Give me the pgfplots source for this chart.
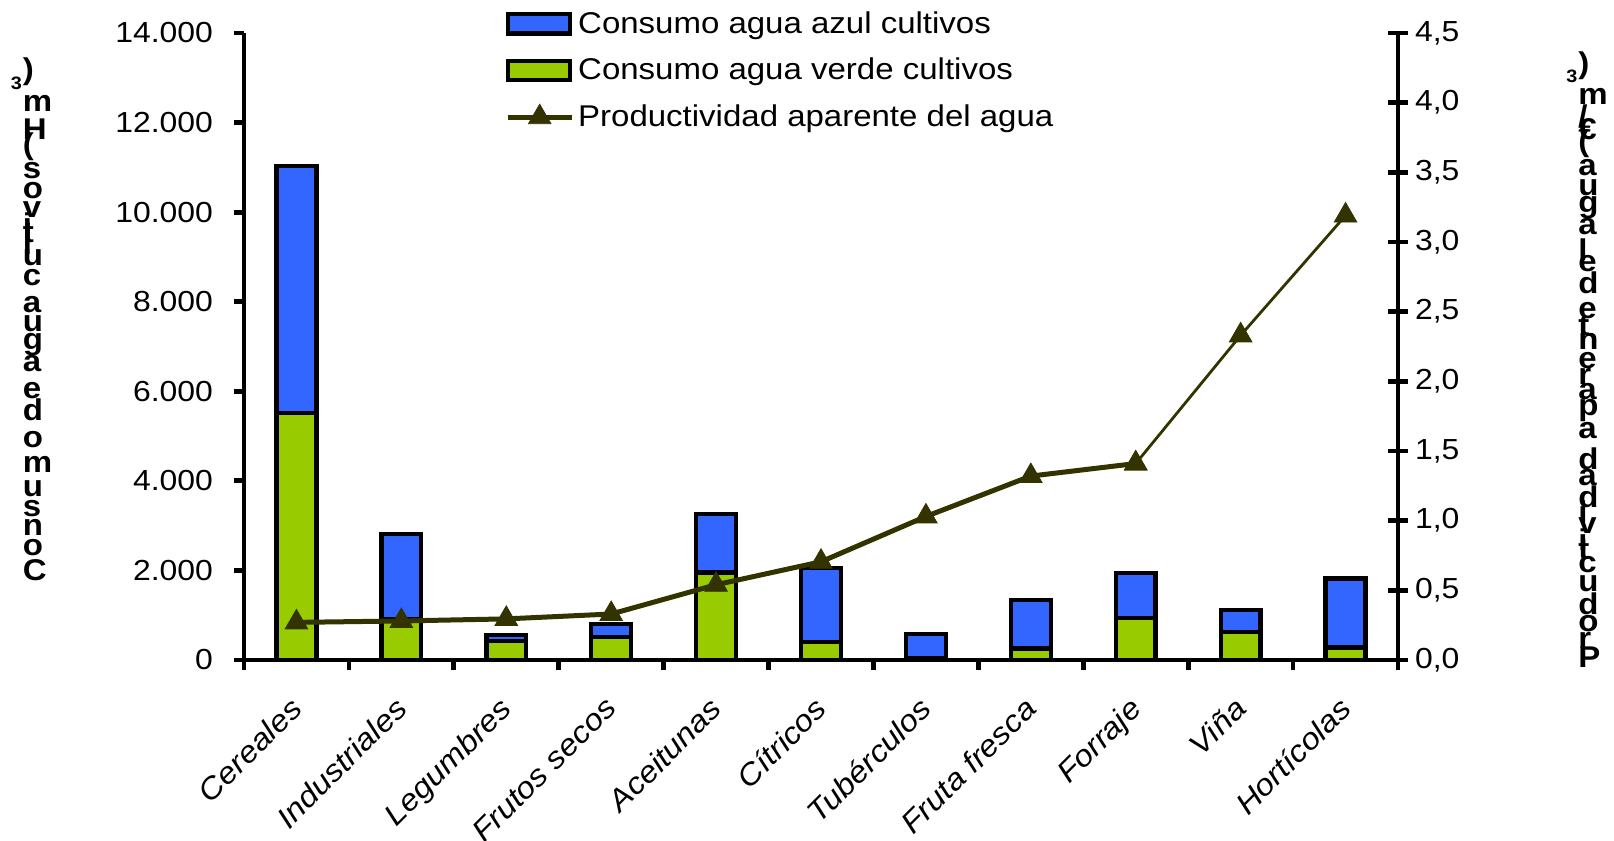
\documentclass[border=0pt]{standalone}
\usepackage{fontspec}
\setmainfont{Liberation Sans}[FakeStretch=1.1]
\usepackage{graphicx}
\usepackage{pgfplots}
\pgfplotsset{compat=1.18}

\definecolor{azul}{HTML}{3366FF}
\definecolor{verde}{HTML}{99CC00}
\definecolor{oliva}{HTML}{333300}

% upright letters stacked along a rotated baseline
\newlength\chw
\newcommand\stk{1}
\newcommand\uc[1]{\settowidth\chw{#1}\makebox[\stk\chw]{\rotatebox{-90}{#1}}}
\newcommand\usp{\uc{\ }}
\newcommand\usup[1]{\raisebox{6pt}[0pt][0pt]{\uc{\fontsize{9}{9}\selectfont #1}}}

\pgfplotsset{
  swatch/.style={legend image code/.code={%
      \draw[##1] (0pt,-4.8pt) rectangle (31pt,4.8pt);}},
  linesw/.style={legend image code/.code={%
      \draw[##1, mark repeat=2, mark phase=2] plot coordinates {(0pt,0pt) (16pt,0pt) (32pt,0pt)};}},
}

\begin{document}
\begin{tikzpicture}[x=1pt,y=1pt]
\path[use as bounding box] (0,0) rectangle (807,420.5);

% water use, stacked bars (left axis)
\begin{axis}[
  at={(122pt,90.5pt)}, anchor=south west,
  scale only axis, width=577pt, height=313.5pt,
  xmin=-0.5, xmax=10.5, ymin=0, ymax=14000,
  axis x line*=bottom, axis y line*=left,
  axis line style={line width=2.4pt, black},
  every tick/.style={line width=2.4pt, black},
  tick align=outside, major tick length=5pt,
  xtick={-0.5,0.5,...,10.5},
  x tick label as interval,
  xticklabels={Cereales,Industriales,Legumbres,Frutos secos,Aceitunas,C\'itricos,Tub\'erculos,Fruta fresca,Forraje,Vi\~na,Hort\'icolas},
  xticklabel style={yshift=-12.5pt, xshift=-4pt, rotate=45, anchor=north east, inner sep=0pt,
    font=\itshape\fontsize{15}{15}\selectfont},
  ytick={0,2000,...,14000},
  scaled y ticks=false,
  yticklabel style={xshift=-7pt, font=\fontsize{14.5}{14.5}\selectfont,
    /pgf/number format/.cd, fixed, 1000 sep={.}, assume math mode=true},
  ybar stacked, bar width=0.38,
  clip=false,
]
\addplot[fill=verde, draw=black, line width=2.2pt] coordinates {
  (0,5520) (1,900) (2,420) (3,510) (4,1950) (5,400)
  (6,50) (7,260) (8,940) (9,620) (10,280)};
\addplot[fill=azul, draw=black, line width=2.2pt] coordinates {
  (0,5510) (1,1910) (2,140) (3,290) (4,1310) (5,1660)
  (6,530) (7,1080) (8,1000) (9,500) (10,1540)};
\end{axis}

% apparent water productivity (right axis)
\begin{axis}[
  at={(122pt,90.5pt)}, anchor=south west,
  scale only axis, width=577pt, height=313.5pt,
  xmin=-0.5, xmax=10.5, ymin=0, ymax=4.5,
  axis x line=none, axis y line*=right,
  axis line style={line width=2.4pt, black},
  every tick/.style={line width=2.4pt, black},
  tick align=center, major tick length=10pt,
  ytick={0,0.5,...,4.5},
  yticklabel style={font=\fontsize{14.5}{14.5}\selectfont,
    /pgf/number format/.cd, fixed, fixed zerofill, precision=1, use comma, assume math mode=true},
  clip=false,
  legend style={at={(0.226,1.0415)}, anchor=north west, draw=none, fill=none,
    inner sep=0pt, row sep=7pt, font=\fontsize{15}{15}\selectfont,
    cells={anchor=west}},
  legend cell align=left,
]
\addlegendimage{swatch, fill=azul, draw=black, line width=2.2pt}
\addlegendentry{Consumo agua azul cultivos}
\addlegendimage{swatch, fill=verde, draw=black, line width=2.2pt}
\addlegendentry{Consumo agua verde cultivos}
\addlegendimage{linesw, oliva, line width=2.5pt, mark=triangle*, mark size=6.5pt,
  mark options={line width=0.4pt}}
\addlegendentry{Productividad aparente del agua}

\addplot[oliva, line width=2.5pt, mark=triangle*, mark size=6.5pt,
  mark options={line width=0.4pt}, forget plot] coordinates {
  (0,0.27) (1,0.28) (2,0.295) (3,0.33) (4,0.54) (5,0.705)
  (6,1.03) (7,1.32) (8,1.41)};
\addplot[oliva, line width=1.4pt, mark=triangle*, mark size=6.5pt,
  mark options={line width=0.4pt}, forget plot] coordinates {
  (8,1.41) (9,2.33) (10,3.19)};
\end{axis}

% axis titles: upright letters along vertical baselines
\node[anchor=south west, inner sep=0pt] at (11.3,129.5) {\rotatebox{90}{%
  \bfseries\fontsize{15}{15}\selectfont\renewcommand\stk{1.0}%
  \uc{C}\uc{o}\uc{n}\uc{s}\uc{u}\uc{m}\uc{o}\usp\uc{d}\uc{e}\usp
  \uc{a}\uc{g}\uc{u}\uc{a}\usp\uc{c}\uc{u}\uc{l}\uc{t}\uc{i}\uc{v}\uc{o}\uc{s}\usp
  \uc{(}\uc{H}\uc{m}\usup{3}\uc{)}}};
\node[anchor=south west, inner sep=0pt] at (789,86) {\rotatebox{90}{%
  \bfseries\fontsize{15}{15}\selectfont\renewcommand\stk{1.0}%
  \uc{P}\uc{r}\uc{o}\uc{d}\uc{u}\uc{c}\uc{t}\uc{i}\uc{v}\uc{i}\uc{d}\uc{a}\uc{d}\usp
  \uc{a}\uc{p}\uc{a}\uc{r}\uc{e}\uc{n}\uc{t}\uc{e}\usp\uc{d}\uc{e}\uc{l}\usp
  \uc{a}\uc{g}\uc{u}\uc{a}\usp\uc{(}\uc{€}\uc{/}\uc{m}\usup{3}\uc{)}}};
\end{tikzpicture}
\end{document}
